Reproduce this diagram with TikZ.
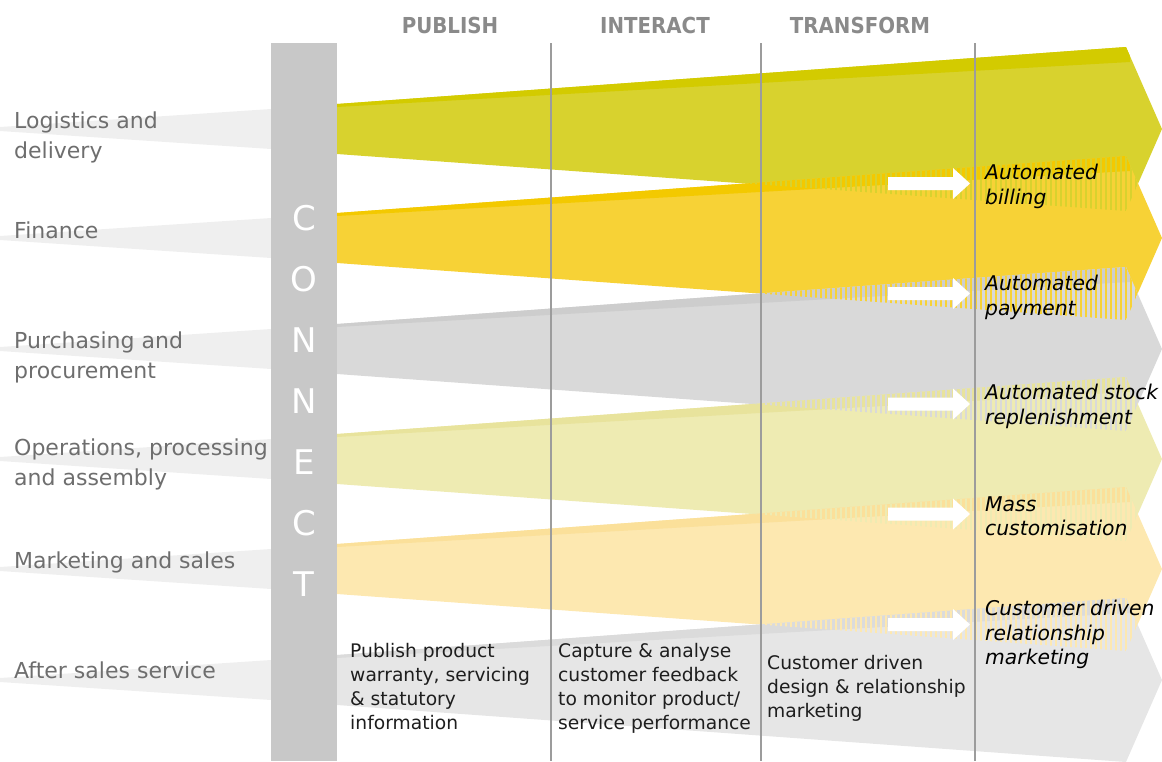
\documentclass[tikz,border=0pt]{standalone}
\usepackage{fontspec}
\setmainfont{DejaVu Sans}[ItalicFont={DejaVu Sans Oblique},BoldFont={DejaVu Sans Bold}]
\newfontfamily\phasefont{DejaVu Sans Condensed}[BoldFont={DejaVu Sans Condensed Bold}]
\definecolor{barcol}{HTML}{C8C8C8}
\definecolor{wedgegray}{HTML}{EFEFEF}
\definecolor{linegray}{HTML}{9C9C9C}
\definecolor{labelgray}{HTML}{6E6E6E}
\definecolor{phasegray}{HTML}{8A8A8A}
\definecolor{darktext}{HTML}{1E1E1E}
\definecolor{bandlogi}{HTML}{D8D22E}
\definecolor{edgelogi}{HTML}{D3CB00}
\definecolor{bandfin}{HTML}{F7D236}
\definecolor{edgefin}{HTML}{F3C900}
\definecolor{bandpurch}{HTML}{D9D9D9}
\definecolor{edgepurch}{HTML}{CDCDCD}
\definecolor{bandoper}{HTML}{EEEBB2}
\definecolor{edgeoper}{HTML}{E8E39C}
\definecolor{bandsales}{HTML}{FDE8B0}
\definecolor{edgesales}{HTML}{FBE09A}
\definecolor{bandservice}{HTML}{E6E6E6}
\definecolor{edgeservice}{HTML}{DBDBDB}
\begin{document}
\begin{tikzpicture}[
                x=1pt, y=-1pt,
                bandpath/.style={insert path={(337,#1-25) -- (1126,#1-82) -- (1162,#1) -- (1126,#1+82) -- (337,#1+25) -- cycle}},
                rowlabel/.style={anchor=west, align=left, inner sep=0pt, text=labelgray, font=\fontsize{22}{30}\selectfont},
                phase/.style={inner sep=0pt, text=phasegray, font=\phasefont\bfseries\fontsize{22}{24}\selectfont},
                connectletter/.style={inner sep=0pt, text=white, font=\fontsize{34}{36}\selectfont},
                stagetext/.style={anchor=north west, align=left, inner sep=0pt, text=darktext, font=\fontsize{18.7}{24}\selectfont},
                outcome/.style={anchor=north west, align=left, inner sep=0pt, text=black, font=\itshape\fontsize{20.3}{24.5}\selectfont},
                stageline/.style={draw=linegray, line width=1.4pt}
                ]
                \useasboundingbox (0,0) rectangle (1162,761);
                % wedges behind the row labels
                \foreach \c in {129,238,349,459,569,680}
                \fill[wedgegray] (0,\c-2) -- (271,\c-20) -- (271,\c+20) -- (0,\c+2) -- cycle;
                % one band per business area
                \foreach \c/\body/\edgecol in {129/bandlogi/edgelogi, 238/bandfin/edgefin, 349/bandpurch/edgepurch,
                                              459/bandoper/edgeoper, 569/bandsales/edgesales, 680/bandservice/edgeservice} {
                \fill[\body, bandpath=\c];
                \begin{scope}
                \clip[bandpath=\c];
                \fill[\edgecol] (337,\c-26) -- (1130,\c-83) -- (1130,\c-67) -- (337,\c-22) -- cycle;
                \end{scope}
                }
                % striped overlap where two bands meet
                \foreach \c/\d/\body in {129/238/bandlogi, 238/349/bandfin, 349/459/bandpurch, 459/569/bandoper, 569/680/bandsales} {
                \begin{scope}
                \clip[bandpath=\c];
                \clip[bandpath=\d];
                \foreach \x in {700,705,...,1160}
                \fill[\body] (\x,\c) rectangle (\x+2.2,\d);
                \end{scope}
                }
                % connect bar and stage lines
                \fill[barcol] (271,43) rectangle (337,761);
                \foreach \x in {551,761,975}
                \draw[stageline] (\x,43) -- (\x,761);
                \foreach \ch [count=\k] in {C,O,N,N,E,C,T}
                \node[connectletter] (con\k) at (304,157+61*\k) {\ch};
                % white arrows
                \foreach \n in {183.5,293.5,404,514,624.5}
                \fill[white] (888,\n-6.5) -- (953,\n-6.5) -- (953,\n-15.5) -- (970,\n)
                             -- (953,\n+15.5) -- (953,\n+6.5) -- (888,\n+6.5) -- cycle;
                % headers
                \node[phase] (publish) at (450,25) {PUBLISH};
                \node[phase] (interact) at (655,25) {INTERACT};
                \node[phase] (transform) at (860,25) {TRANSFORM};
                % row labels
                \node[rowlabel] (logistics) at (14,137) {Logistics and\\delivery};
                \node[rowlabel] (finance) at (14,230) {Finance};
                \node[rowlabel] (purchasing) at (14,357) {Purchasing and\\procurement};
                \node[rowlabel] (operations) at (14,464) {Operations, processing\\and assembly};
                \node[rowlabel] (marketing) at (14,562) {Marketing and sales};
                \node[rowlabel] (aftersales) at (14,670) {After sales service};
                % stage descriptions
                \node[stagetext] (publishtext) at (350,643) {Publish product\\warranty, servicing\\\& statutory\\information};
                \node[stagetext] (interacttext) at (558,643) {Capture \& analyse\\customer feedback\\to monitor product/\\service performance};
                \node[stagetext] (transformtext) at (767,655) {Customer driven\\design \& relationship\\marketing};
                % outcomes
                \node[outcome] (billing) at (985,164) {Automated\\billing};
                \node[outcome] (payment) at (985,275) {Automated\\payment};
                \node[outcome] (stock) at (985,384) {Automated stock\\replenishment};
                \node[outcome] (mass) at (985,496) {Mass\\customisation};
                \node[outcome] (crm) at (985,600) {Customer driven\\relationship\\marketing};
            \end{tikzpicture}
\end{document}
